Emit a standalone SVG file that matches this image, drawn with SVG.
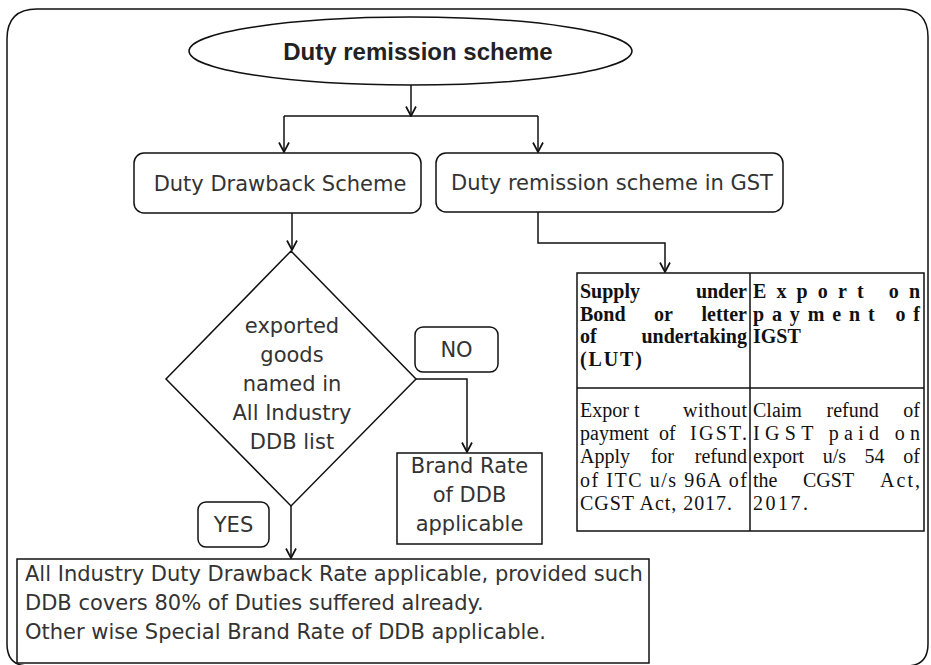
<svg xmlns="http://www.w3.org/2000/svg" width="931" height="665" viewBox="0 0 931 665">
<defs>
<marker id="arr" viewBox="0 0 12 12" refX="11" refY="6" markerWidth="12" markerHeight="12" markerUnits="userSpaceOnUse" orient="auto">
<path d="M1.5,1 L11,6 L1.5,11" fill="none" stroke="#111" stroke-width="1.7"/>
</marker>
<style>
.ln{fill:none;stroke:#111;stroke-width:1.5}
.bx{fill:#fff;stroke:#111;stroke-width:1.5}
.cg{font-family:"DejaVu Sans",Verdana,sans-serif;font-size:21px;fill:#333}
.ctr{text-anchor:middle}
.title{font-family:"Liberation Sans",Arial,sans-serif;font-weight:bold;font-size:24px;fill:#222;text-anchor:middle}
.tb{font-family:"Liberation Serif","Times New Roman",serif;font-size:20px;fill:#111}
.bold{font-weight:bold}
.end{text-anchor:end}
</style>
</defs>
<rect width="931" height="665" fill="#fff"/>
<g id="frame">
<path class="ln" d="M7,39 Q7,9 37,9 L900,9 Q928,9 928,37 L928,644 Q928,666 906,666 L29,666 Q7,666 7,644 Z"/>
</g>
<g id="connectors">
<path class="ln" d="M411,85 L411,116" marker-end="url(#arr)"/>
<path class="ln" d="M284,116 L538,116"/>
<path class="ln" d="M284,116 L284,152" marker-end="url(#arr)"/>
<path class="ln" d="M538,116 L538,152" marker-end="url(#arr)"/>
<path class="ln" d="M292,213 L292,250" marker-end="url(#arr)"/>
<path class="ln" d="M538,212 L538,243 L665,243 L665,272" marker-end="url(#arr)"/>
<path class="ln" d="M416,379 L467,379 L467,452" marker-end="url(#arr)"/>
<path class="ln" d="M291,506 L291,558" marker-end="url(#arr)"/>
</g>
<g id="start">
<ellipse class="bx" cx="410.5" cy="51" rx="221.5" ry="34"/>
<text class="title" x="418" y="60">Duty remission scheme</text>
</g>
<g id="drawback">
<rect class="bx" x="134" y="153" width="287" height="60" rx="10"/>
<text class="cg ctr" x="280" y="191">Duty Drawback Scheme</text>
</g>
<g id="gst">
<rect class="bx" x="436" y="153" width="347" height="59" rx="10"/>
<text class="cg ctr" x="612" y="190">Duty remission scheme in GST</text>
</g>
<g id="decision">
<polygon class="bx" points="291,251 416,379 291,506 166,379"/>
<text class="cg ctr" x="292" y="333">exported</text>
<text class="cg ctr" x="292" y="362">goods</text>
<text class="cg ctr" x="292" y="391">named in</text>
<text class="cg ctr" x="292" y="420">All Industry</text>
<text class="cg ctr" x="292" y="449">DDB list</text>
</g>
<g id="no-label">
<rect class="bx" x="415" y="327" width="83" height="45" rx="8"/>
<text class="cg ctr" x="456.5" y="357">NO</text>
</g>
<g id="yes-label">
<rect class="bx" x="198" y="502" width="71" height="45" rx="8"/>
<text class="cg ctr" x="233.5" y="532">YES</text>
</g>
<g id="brand-rate">
<rect class="bx" x="397" y="453" width="145" height="91"/>
<text class="cg ctr" x="469.5" y="473">Brand Rate</text>
<text class="cg ctr" x="469.5" y="502">of DDB</text>
<text class="cg ctr" x="469.5" y="531">applicable</text>
</g>
<g id="all-industry">
<rect class="bx" x="17" y="559" width="632" height="104"/>
<text class="cg" x="25" y="581">All Industry Duty Drawback Rate applicable, provided such</text>
<text class="cg" x="25" y="610">DDB covers 80% of Duties suffered already.</text>
<text class="cg" x="25" y="639">Other wise Special Brand Rate of DDB applicable.</text>
</g>
<g id="gst-table">
<rect class="bx" x="577" y="273" width="347" height="258"/>
<path class="ln" d="M750,273 L750,531 M577,388 L924,388"/>
<text class="tb bold" x="580" y="298">Supply</text>
<text class="tb bold end" x="747" y="298">under</text>
<text class="tb bold" x="580" y="321">Bond</text>
<text class="tb bold" x="654" y="321">or</text>
<text class="tb bold end" x="747" y="321">letter</text>
<text class="tb bold" x="580" y="343">of</text>
<text class="tb bold end" x="747" y="343">undertaking</text>
<text class="tb bold" x="580" y="366" textLength="62" lengthAdjust="spacing">(LUT)</text>
<text class="tb bold" x="753" y="298" textLength="167" lengthAdjust="spacing">Export on</text>
<text class="tb bold" x="753" y="321" textLength="167" lengthAdjust="spacing">payment of</text>
<text class="tb bold" x="753" y="343">IGST</text>
<text class="tb" x="580" y="417">Expor t</text>
<text class="tb" x="683" y="417" textLength="64" lengthAdjust="spacing">without</text>
<text class="tb" x="580" y="440">payment</text>
<text class="tb" x="659" y="440">of</text>
<text class="tb" x="690" y="440" textLength="57" lengthAdjust="spacing">IGST.</text>
<text class="tb" x="580" y="463">Apply</text>
<text class="tb" x="650.7" y="463">for</text>
<text class="tb end" x="747" y="463">refund</text>
<text class="tb" x="580" y="487" textLength="167" lengthAdjust="spacing">of ITC u/s 96A of</text>
<text class="tb" x="580" y="510" textLength="152" lengthAdjust="spacing">CGST Act, 2017.</text>
<text class="tb" x="753" y="417">Claim</text>
<text class="tb" x="826.5" y="417">refund</text>
<text class="tb end" x="920" y="417">of</text>
<text class="tb" x="753" y="440" textLength="167" lengthAdjust="spacing">IGST paid on</text>
<text class="tb" x="753" y="463">export</text>
<text class="tb" x="822.7" y="463">u/s</text>
<text class="tb" x="864.6" y="463">54</text>
<text class="tb end" x="920" y="463">of</text>
<text class="tb" x="753" y="487">the</text>
<text class="tb" x="803" y="487">CGST</text>
<text class="tb" x="880" y="487" textLength="40" lengthAdjust="spacing">Act,</text>
<text class="tb" x="753" y="510" textLength="55" lengthAdjust="spacing">2017.</text>
</g>
</svg>
